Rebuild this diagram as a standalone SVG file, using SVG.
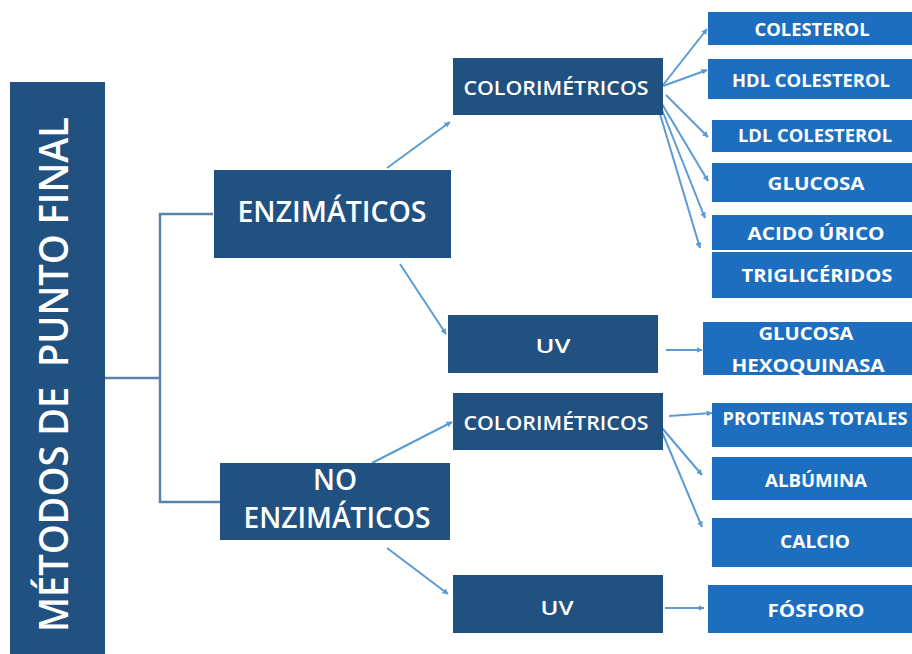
<svg xmlns="http://www.w3.org/2000/svg" width="912" height="654" viewBox="0 0 912 654">
<style>
.dk{fill:#215180}
.br{fill:#1e6ebf}
.t{font-family:"Open Sans","Liberation Sans",sans-serif;fill:#ffffff;text-anchor:middle}
.s{font-size:17px;font-weight:700}
.m{font-size:19px;font-weight:600}
.l{font-size:28px;font-weight:600}
.el{fill:none;stroke:#5b84ad;stroke-width:2.5}
.ar{fill:none;stroke:#5b9bd5;stroke-width:2;marker-end:url(#ah)}
</style>
<defs>
<marker id="ah" viewBox="0 0 10 10" refX="9" refY="5" markerWidth="3" markerHeight="3" orient="auto" markerUnits="strokeWidth">
<path d="M0,0 L10,5 L0,10 z" fill="#5b9bd5"/>
</marker>
</defs>
<rect width="912" height="654" fill="#ffffff"/>

<g id="connectors">
<path class="el" d="M105,378 H160 M213,214 H160 V502 H221"/>
<line class="ar" x1="387" y1="168" x2="450" y2="122"/>
<line class="ar" x1="400" y1="264" x2="446" y2="334"/>
<line class="ar" x1="372" y1="463" x2="452" y2="422"/>
<line class="ar" x1="387" y1="548" x2="448" y2="594"/>
<line class="ar" x1="663" y1="85" x2="707" y2="29"/>
<line class="ar" x1="663" y1="86" x2="707" y2="70"/>
<line class="ar" x1="666" y1="95" x2="708" y2="137"/>
<line class="ar" x1="662" y1="104" x2="708" y2="181"/>
<line class="ar" x1="662" y1="110" x2="705" y2="218"/>
<line class="ar" x1="660" y1="114" x2="700" y2="248"/>
<line class="ar" x1="666" y1="350" x2="702" y2="350"/>
<line class="ar" x1="669" y1="416" x2="712" y2="413"/>
<line class="ar" x1="662" y1="428" x2="702" y2="475"/>
<line class="ar" x1="662" y1="432" x2="702" y2="527"/>
<line class="ar" x1="665" y1="608" x2="704" y2="608"/>
</g>

<g id="metodos">
<rect class="dk" x="10" y="82" width="95" height="580"/>
<text class="t" style="white-space:pre" font-size="39" font-weight="600" transform="translate(68,374.5) rotate(-90)" textLength="515" lengthAdjust="spacingAndGlyphs">MÉTODOS DE  PUNTO FINAL</text>
</g>

<g id="enzimaticos">
<rect class="dk" x="214" y="170" width="237" height="88"/>
<text class="t l" x="332" y="222" textLength="189" lengthAdjust="spacingAndGlyphs">ENZIMÁTICOS</text>
</g>

<g id="no-enzimaticos">
<rect class="dk" x="220" y="463" width="230" height="77"/>
<text class="t l" x="335" y="490" textLength="44" lengthAdjust="spacingAndGlyphs">NO</text>
<text class="t l" x="337" y="528" textLength="187" lengthAdjust="spacingAndGlyphs">ENZIMÁTICOS</text>
</g>

<g id="colorimetricos-1">
<rect class="dk" x="453" y="58" width="210" height="57"/>
<text class="t m" x="556" y="95" textLength="185" lengthAdjust="spacingAndGlyphs">COLORIMÉTRICOS</text>
</g>

<g id="uv-1">
<rect class="dk" x="448" y="315" width="210" height="58"/>
<text class="t m" x="553" y="353" textLength="35" lengthAdjust="spacingAndGlyphs">UV</text>
</g>

<g id="colorimetricos-2">
<rect class="dk" x="453" y="393" width="210" height="57"/>
<text class="t m" x="556" y="430" textLength="185" lengthAdjust="spacingAndGlyphs">COLORIMÉTRICOS</text>
</g>

<g id="uv-2">
<rect class="dk" x="453" y="575" width="210" height="58"/>
<text class="t m" x="557" y="615" textLength="33" lengthAdjust="spacingAndGlyphs">UV</text>
</g>

<g id="colesterol">
<rect class="br" x="708" y="12" width="210" height="33"/>
<text class="t s" x="812" y="36" textLength="115" lengthAdjust="spacingAndGlyphs">COLESTEROL</text>
</g>
<g id="hdl">
<rect class="br" x="708" y="59" width="210" height="40"/>
<text class="t s" x="811" y="87" textLength="158" lengthAdjust="spacingAndGlyphs">HDL COLESTEROL</text>
</g>
<g id="ldl">
<rect class="br" x="712" y="120" width="210" height="32"/>
<text class="t s" x="815" y="142" textLength="154" lengthAdjust="spacingAndGlyphs">LDL COLESTEROL</text>
</g>
<g id="glucosa">
<rect class="br" x="712" y="163" width="210" height="39"/>
<text class="t s" x="816" y="190" textLength="97" lengthAdjust="spacingAndGlyphs">GLUCOSA</text>
</g>
<g id="acido-urico">
<rect class="br" x="712" y="215" width="210" height="35"/>
<text class="t s" x="816" y="240" textLength="137" lengthAdjust="spacingAndGlyphs">ACIDO ÚRICO</text>
</g>
<g id="trigliceridos">
<rect class="br" x="712" y="252" width="210" height="46"/>
<text class="t s" x="817" y="282" textLength="151" lengthAdjust="spacingAndGlyphs">TRIGLICÉRIDOS</text>
</g>
<g id="glucosa-hexoquinasa">
<rect class="br" x="703" y="322" width="215" height="53"/>
<text class="t s" x="806" y="340" textLength="95" lengthAdjust="spacingAndGlyphs">GLUCOSA</text>
<text class="t s" x="808" y="372" textLength="153" lengthAdjust="spacingAndGlyphs">HEXOQUINASA</text>
</g>
<g id="proteinas-totales">
<rect class="br" x="712" y="403" width="210" height="44"/>
<text class="t s" x="815" y="425" textLength="185" lengthAdjust="spacingAndGlyphs">PROTEINAS TOTALES</text>
</g>
<g id="albumina">
<rect class="br" x="712" y="457" width="210" height="43"/>
<text class="t s" x="816" y="487" textLength="102" lengthAdjust="spacingAndGlyphs">ALBÚMINA</text>
</g>
<g id="calcio">
<rect class="br" x="712" y="518" width="210" height="49"/>
<text class="t s" x="815" y="548" textLength="70" lengthAdjust="spacingAndGlyphs">CALCIO</text>
</g>
<g id="fosforo">
<rect class="br" x="708" y="585" width="210" height="48"/>
<text class="t s" x="816" y="617" textLength="97" lengthAdjust="spacingAndGlyphs">FÓSFORO</text>
</g>
</svg>
